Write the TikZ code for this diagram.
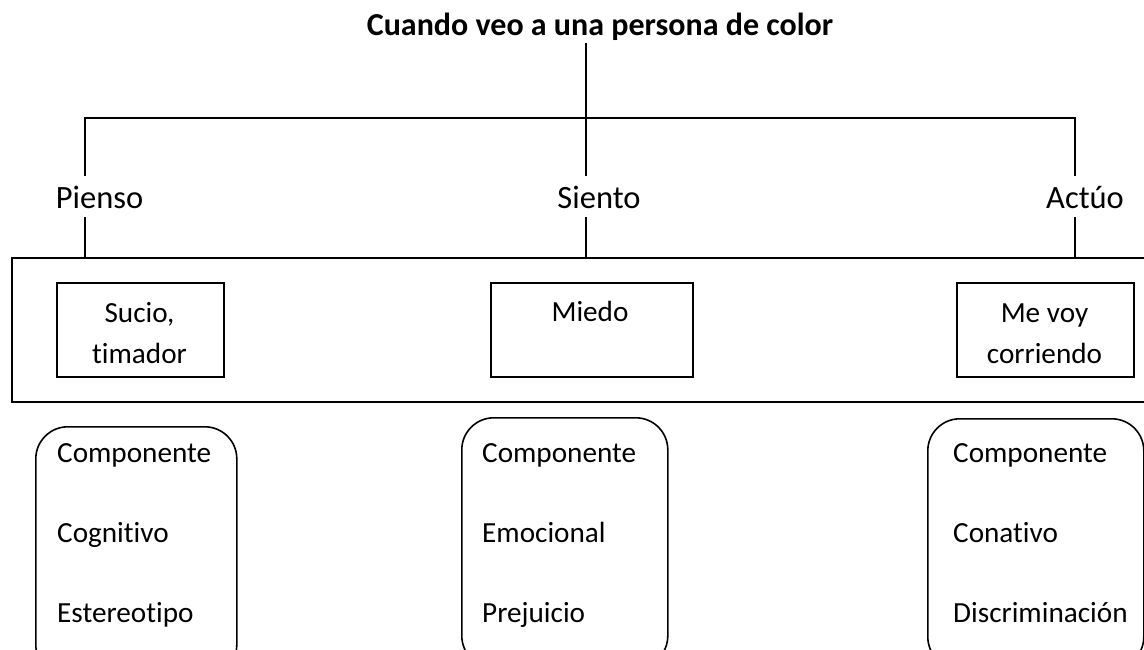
\documentclass[tikz,border=0pt]{standalone}
\usepackage{fontspec}
\setmainfont{Carlito}[Ligatures=NoCommon]
\begin{document}
\begin{tikzpicture}[x=1pt,y=-1pt,
  every node/.style={font=\fontsize{29.2}{41}\selectfont, inner sep=0pt},
  ttl/.style={font=\fontsize{32}{38}\selectfont\bfseries},
  lvl/.style={font=\fontsize{32.5}{38}\selectfont, anchor=base},
  line/.style={line width=1.6pt},
  sqbox/.style={draw, line width=1.6pt, minimum width=167pt, minimum height=94pt, anchor=north west},
  outerbox/.style={draw, line width=1.6pt, anchor=north west, minimum width=1150pt, minimum height=144pt},
  rbox/.style={draw, line width=1.6pt, rounded corners=32pt, anchor=north west, minimum height=250pt},
  itm/.style={anchor=base west},
  ctr/.style={anchor=base, align=center}
]
\useasboundingbox (0,0) rectangle (1144,650);
\fill[white] (0,0) rectangle (1144,650);

% title
\node[ttl, anchor=base] (title) at (600,36) {Cuando veo a una persona de color};
\coordinate (tb) at (586,43);
\coordinate (jt) at (586,118);
\coordinate (jl) at (85,118);
\coordinate (jr) at (1075,118);

% level labels
\node[lvl] (pienso) at (99.5,208) {Pienso};
\node[lvl] (siento) at (599,208) {Siento};
\node[lvl] (actuo) at (1085,208) {Actúo};

\coordinate (pa) at (85,176);  \coordinate (pb) at (85,217);
\coordinate (sa) at (586,176); \coordinate (sb) at (586,217);
\coordinate (aa) at (1075,176); \coordinate (ab) at (1075,217);

% outer rectangle
\node[outerbox] (outer) at (11,257) {};
\coordinate (po) at (85,257);
\coordinate (so) at (586,257);
\coordinate (ao) at (1075,257);

\draw[line] (tb) -- (jt);
\draw[line] (pa) -- (jl) -- (jr) -- (aa);
\draw[line] (jt) -- (sa);
\draw[line] (pb) -- (po);
\draw[line] (sb) -- (so);
\draw[line] (ab) -- (ao);

% inner boxes
\node[sqbox] (b1) at (56,282) {};
\node[sqbox, minimum width=202pt] (b2) at (490,282) {};
\node[sqbox, minimum width=177pt] (b3) at (956,282) {};
\node[ctr] (t1) at (139.5,363) {Sucio,\\timador};
\node[ctr] (t2) at (590,321) {Miedo};
\node[ctr] (t3) at (1044.5,363) {Me voy\\corriendo};

% rounded boxes
\node[rbox, minimum width=201pt] (r1) at (35,426) {};
\node[rbox, minimum width=206pt] (r2) at (461,417) {};
\node[rbox, minimum width=216pt] (r3) at (927,418) {};

\node[itm] (c1a) at (57,462) {Componente};
\node[itm] (c1b) at (57,542) {Cognitivo};
\node[itm] (c1c) at (57,622) {Estereotipo};
\node[itm] (c2a) at (482,462) {Componente};
\node[itm] (c2b) at (482,542) {Emocional};
\node[itm] (c2c) at (482,622) {Prejuicio};
\node[itm] (c3a) at (953,462) {Componente};
\node[itm] (c3b) at (953,542) {Conativo};
\node[itm] (c3c) at (953,622) {Discriminación};
\end{tikzpicture}
\end{document}
